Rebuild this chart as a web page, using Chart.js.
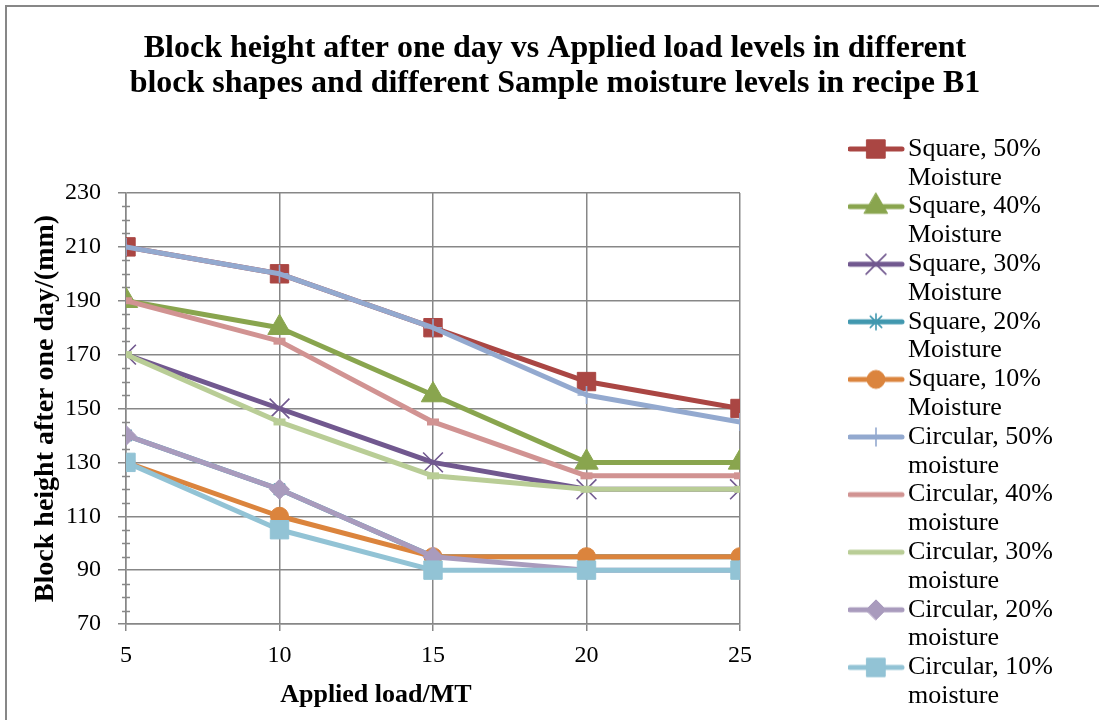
<!DOCTYPE html>
<html>
<head>
<meta charset="utf-8">
<title>Block height after one day vs Applied load levels</title>
<script src="https://cdn.jsdelivr.net/npm/chart.js@4.4.1/dist/chart.umd.min.js"></script>
<style>
  html, body { margin: 0; padding: 0; background: #fff; }
  #wrap { width: 1099px; height: 720px; }
</style>
</head>
<body>
<div id="wrap"><canvas id="chart" width="1099" height="720"></canvas></div>
<script>
// ── data ────────────────────────────────────────────────────
const LOADS = [5, 10, 15, 20, 25];

const SQUARE_50   = [210, 200, 180, 160, 150];
const SQUARE_40   = [190, 180, 155, 130, 130];
const SQUARE_30   = [170, 150, 130, 120, 120];
const SQUARE_20   = [140, 120, 95, 95, 95];
const SQUARE_10   = [130, 110, 95, 95, 95];
const CIRCULAR_50 = [210, 200, 180, 155, 145];
const CIRCULAR_40 = [190, 175, 145, 125, 125];
const CIRCULAR_30 = [170, 145, 125, 120, 120];
const CIRCULAR_20 = [140, 120, 95, 90, 90];
const CIRCULAR_10 = [130, 105, 90, 90, 90];

const SERIES = [SQUARE_50, SQUARE_40, SQUARE_30, SQUARE_20, SQUARE_10,
                CIRCULAR_50, CIRCULAR_40, CIRCULAR_30, CIRCULAR_20, CIRCULAR_10];

const SERIES_LABELS = [
  ["Square, 50%", "Moisture"],
  ["Square, 40%", "Moisture"],
  ["Square, 30%", "Moisture"],
  ["Square, 20%", "Moisture"],
  ["Square, 10%", "Moisture"],
  ["Circular, 50%", "moisture"],
  ["Circular, 40%", "moisture"],
  ["Circular, 30%", "moisture"],
  ["Circular, 20%", "moisture"],
  ["Circular, 10%", "moisture"]
];

const TITLE_LINES = [
  "Block height after one day vs Applied load levels in different",
  "block shapes and different Sample moisture levels in recipe B1"
];
const X_TITLE = "Applied load/MT";
const Y_TITLE = "Block height after one day/(mm)";
const Y_MIN = 70, Y_MAX = 230, Y_STEP = 20, Y_MINOR = 5;
const X_MIN = 5, X_MAX = 25, X_STEP = 5;

// ── styles (Excel 2007 palette) ─────────────────────────────
const COLORS  = ["#AA4643", "#89A54E", "#71588F", "#4198AF", "#DB843D",
                 "#93A9CF", "#D19392", "#B9CD96", "#A99BBD", "#92C3D5"];
const MARKERS = ["rect", "triangle", "crossRot", "star", "circle",
                 "cross", "line", "line", "rectRot", "rect"];
const RADII   = [13, 13.5, 14, 8, 9, 9, 6, 6, 10, 13];
const MARK_BW = [1, 1, 1.6, 1.6, 1, 1.6, 7, 7, 1, 1];

const SERIF = '"Liberation Serif", "Times New Roman", serif';
const GRID  = "#878787";
Chart.defaults.font.family = SERIF;
Chart.defaults.color = "#000";

// ── layout numbers ──────────────────────────────────────────
const W = 1099;
const PLOT_RIGHT = 740, LEG_LEFT = 848;
const LEG_FONT = 26, LEG_BOX = 47, SAMPLE_W = 67;
const measure = document.createElement("canvas").getContext("2d");
measure.font = LEG_FONT + "px " + SERIF;
const legTextW = Math.max(...SERIES_LABELS.map(l =>
  measure.measureText(l.reduce((a, b) => a.length > b.length ? a : b)).width));
const legendW = LEG_BOX + LEG_FONT / 2 + legTextW + 10;
const PAD_R = W - LEG_LEFT - legendW;
const PAD_L = PAD_R + 11;   // keeps the title centred where Excel put it

// legend sample: line + marker, like the Excel legend (left part stays empty)
function legendSample(i) {
  const c = document.createElement("canvas");
  c.width = SAMPLE_W; c.height = 30;
  const g = c.getContext("2d");
  g.strokeStyle = COLORS[i]; g.fillStyle = COLORS[i];
  g.lineWidth = 5; g.lineCap = "round";
  g.beginPath(); g.moveTo(12, 15); g.lineTo(64, 15); g.stroke();
  if (MARKERS[i] !== "line") {
    g.lineWidth = MARK_BW[i];
    Chart.helpers.drawPoint(g, {pointStyle: MARKERS[i], radius: RADII[i], borderWidth: MARK_BW[i], rotation: 0}, 38, 15);
  }
  return c;
}

// ── plugins ─────────────────────────────────────────────────
const frame = {
  id: "frame",
  beforeDraw(chart) {
    const ctx = chart.ctx;
    ctx.save();
    ctx.fillStyle = "#fff";
    ctx.fillRect(0, 0, chart.width, chart.height);
    ctx.strokeStyle = GRID; ctx.lineWidth = 2;
    ctx.strokeRect(6, 6, chart.width + 50, chart.height + 50);
    ctx.restore();
  }
};

const minorTicks = {
  id: "minorTicks",
  beforeDatasetsDraw(chart) {
    const y = chart.scales.y, ctx = chart.ctx, x0 = y.right;
    ctx.save();
    ctx.strokeStyle = GRID; ctx.lineWidth = 1.5;
    for (let v = Y_MIN; v <= Y_MAX; v += Y_MINOR) {
      if ((v - Y_MIN) % Y_STEP === 0) continue;
      const py = Math.round(y.getPixelForValue(v)) + 0.5;
      ctx.beginPath(); ctx.moveTo(x0 - 4, py); ctx.lineTo(x0 + 4, py); ctx.stroke();
    }
    ctx.restore();
  }
};

// Excel sits the x title left of the axis centre
const xTitle = {
  id: "xTitle",
  afterDraw(chart) {
    const a = chart.chartArea, ctx = chart.ctx;
    ctx.save();
    ctx.font = "bold 26px " + SERIF;
    ctx.fillStyle = "#000";
    ctx.textAlign = "center"; ctx.textBaseline = "middle";
    ctx.fillText(X_TITLE, a.left + (a.right - a.left) * 0.407, chart.height - 25);
    ctx.restore();
  }
};

// ── chart ───────────────────────────────────────────────────
const datasets = SERIES.map((vals, i) => ({
  label: SERIES_LABELS[i].join(" "),
  data: LOADS.map((x, k) => ({x, y: vals[k]})),
  borderColor: COLORS[i],
  backgroundColor: COLORS[i],
  borderWidth: 5,
  borderJoinStyle: "round",
  borderCapStyle: "round",
  tension: 0,
  pointStyle: MARKERS[i],
  pointRadius: RADII[i],
  pointHoverRadius: RADII[i],
  pointBorderWidth: MARK_BW[i],
  pointBackgroundColor: COLORS[i],
  pointBorderColor: COLORS[i],
  order: SERIES.length - i   // later series drawn on top, as in Excel
}));

const dummy = (pos, size) => ({
  type: "linear", position: pos, display: true,
  ticks: {display: false}, grid: {display: false, drawTicks: false}, border: {display: false},
  afterFit: s => { if (pos === "top") s.height = size; else s.width = size; }
});

const TITLE_PAD_TOP = 31;
const TITLE_H = TITLE_PAD_TOP + 2 * 35;

new Chart(document.getElementById("chart"), {
  type: "line",
  data: {datasets},
  plugins: [frame, minorTicks, xTitle],
  options: {
    responsive: false,
    animation: false,
    events: [],
    layout: {padding: {left: PAD_L, right: PAD_R, top: 0, bottom: 0}},
    plugins: {
      title: {
        display: true,
        text: TITLE_LINES,
        color: "#000",
        font: {size: 32, weight: "bold", lineHeight: 35 / 32},
        padding: {top: TITLE_PAD_TOP, bottom: 0}
      },
      legend: {
        position: "right",
        align: "start",
        maxWidth: 600,
        title: {display: true, text: "", font: {size: 10, lineHeight: 1}, padding: {top: 126, bottom: 0}},
        labels: {
          usePointStyle: true,
          pointStyleWidth: LEG_BOX,
          padding: 0,
          color: "#000",
          font: {size: LEG_FONT, lineHeight: 28.8 / LEG_FONT},
          generateLabels: chart => chart.data.datasets.map((ds, i) => ({
            text: SERIES_LABELS[i],
            pointStyle: legendSample(i),
            fillStyle: "transparent",
            strokeStyle: "transparent",
            lineWidth: 0,
            fontColor: "#000",
            hidden: !chart.isDatasetVisible(i),
            datasetIndex: i
          }))
        }
      },
      tooltip: {enabled: false}
    },
    scales: {
      x: {
        type: "linear", position: "bottom",
        min: X_MIN, max: X_MAX,
        ticks: {stepSize: X_STEP, font: {size: 24}, color: "#000", padding: 10.6},
        grid: {color: GRID, lineWidth: 1.5, tickLength: 7, tickColor: GRID},
        border: {color: GRID, width: 1.5},
        afterFit: s => { s.height = 96; }
      },
      y: {
        type: "linear", position: "left",
        min: Y_MIN, max: Y_MAX,
        ticks: {stepSize: Y_STEP, font: {size: 24}, color: "#000", padding: 17},
        grid: {color: GRID, lineWidth: 1.5, tickLength: 8, tickColor: GRID},
        border: {color: GRID, width: 1.5},
        title: {
          display: true, text: Y_TITLE, color: "#000",
          font: {size: 28, weight: "bold", lineHeight: 1.2},
          padding: {top: 46 - PAD_L - 16.8, bottom: 0}
        },
        afterFit: s => { s.width = 126 - PAD_L; }
      },
      xTop: dummy("top", 193 - TITLE_H),
      yRight: dummy("right", LEG_LEFT - PLOT_RIGHT)
    }
  }
});
</script>
</body>
</html>
